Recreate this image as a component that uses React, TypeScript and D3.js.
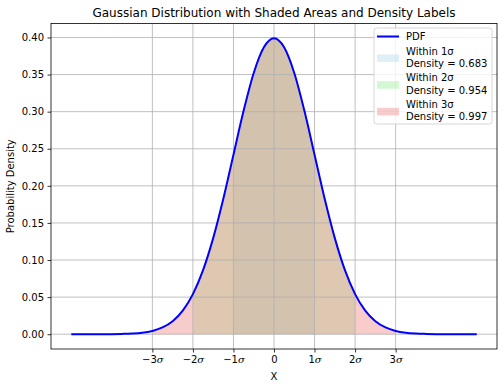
import { useEffect, useRef } from 'react'
import * as d3 from 'd3'

const xs = [
  -5, -4.75, -4.5, -4.25, -4, -3.75, -3.5, -3.25, -3, -2.75, -2.5, -2.25, -2, -1.75, -1.5, -1.25, -1, -0.75, -0.5, -0.25,
  0, 0.25, 0.5, 0.75, 1, 1.25, 1.5, 1.75, 2, 2.25, 2.5, 2.75, 3, 3.25, 3.5, 3.75, 4, 4.25, 4.5, 4.75, 5,
]
const pdf = [
  0.0, 0.0, 0.0, 0.0, 0.0001, 0.0004, 0.0009, 0.002, 0.0044, 0.0091, 0.0175, 0.0317, 0.054, 0.0863, 0.1295, 0.1826, 0.242, 0.3011, 0.3521, 0.3867,
  0.3989, 0.3867, 0.3521, 0.3011, 0.242, 0.1826, 0.1295, 0.0863, 0.054, 0.0317, 0.0175, 0.0091, 0.0044, 0.002, 0.0009, 0.0004, 0.0001, 0.0, 0.0, 0.0, 0.0,
]
const bands = [1, 2, 3]
const bandColors = ['lightblue', 'lightgreen', 'lightcoral']
const densities = ['0.683', '0.954', '0.997']
const xTicks = [-3, -2, -1, 0, 1, 2, 3]
const yTicks = [0, 0.05, 0.1, 0.15, 0.2, 0.25, 0.3, 0.35, 0.4]

const W = 504
const H = 389
const FONT = 'DejaVu Sans, sans-serif'

export default function App() {
  const ref = useRef<SVGSVGElement>(null)

  useEffect(() => {
    if (!ref.current) return
    const margin = { top: 23.5, right: 7, bottom: 40, left: 51 }
    const w = W - margin.left - margin.right
    const h = H - margin.top - margin.bottom

    const svg = d3.select(ref.current)
    svg.selectAll('*').remove()
    svg.append('rect').attr('width', W).attr('height', H).attr('fill', 'white')

    const data = xs.map((x, i) => ({ x, y: pdf[i] }))
    const ymax = d3.max(pdf) || 0.4
    const x = d3.scaleLinear().domain([-5.5, 5.5]).range([0, w])
    const y = d3.scaleLinear().domain([-ymax * 0.05, ymax * 1.05]).range([h, 0])

    svg.append('defs').append('clipPath').attr('id', 'plot')
      .append('rect').attr('width', w).attr('height', h)

    const g = svg.append('g').attr('transform', `translate(${margin.left},${margin.top})`)
    const plot = g.append('g').attr('clip-path', 'url(#plot)')

    // shaded areas
    const area = d3.area<{ x: number; y: number }>()
      .x(d => x(d.x)).y0(y(0)).y1(d => y(d.y))
      .curve(d3.curveMonotoneX)
    bands.forEach((k, i) => {
      plot.append('path')
        .datum(data.filter(d => d.x >= -k && d.x <= k))
        .attr('d', area)
        .attr('fill', bandColors[i])
        .attr('fill-opacity', 0.4)
    })

    // grid
    plot.selectAll('.vgrid').data(xTicks).join('line')
      .attr('x1', d => x(d)).attr('x2', d => x(d)).attr('y1', 0).attr('y2', h)
      .attr('stroke', '#b0b0b0').attr('stroke-width', 0.8)
    plot.selectAll('.hgrid').data(yTicks).join('line')
      .attr('y1', d => y(d)).attr('y2', d => y(d)).attr('x1', 0).attr('x2', w)
      .attr('stroke', '#b0b0b0').attr('stroke-width', 0.8)

    // pdf line
    const line = d3.line<{ x: number; y: number }>()
      .x(d => x(d.x)).y(d => y(d.y)).curve(d3.curveMonotoneX)
    plot.append('path').datum(data).attr('d', line)
      .attr('fill', 'none').attr('stroke', 'blue').attr('stroke-width', 2)

    // axes
    const xAxis = g.append('g').attr('transform', `translate(0,${h})`)
      .call(d3.axisBottom(x).tickValues(xTicks).tickSize(3.5).tickPadding(3.5).tickFormat(() => ''))
    xAxis.select('.domain').remove()
    xAxis.selectAll('.tick line').attr('stroke', '#000').attr('stroke-width', 0.8)
    xAxis.selectAll<SVGTextElement, number>('.tick text').each(function (d) {
      const t = d3.select(this).attr('font-family', FONT).attr('font-size', 10).attr('fill', '#000').attr('dy', '0.71em')
      if (d === 0) {
        t.text('0')
      } else {
        t.append('tspan').text(`${d < 0 ? '\u2212' : ''}${Math.abs(d)}`)
        t.append('tspan').attr('font-style', 'italic').attr('font-family', 'DejaVu Serif, serif').text('\u03c3')
      }
    })
    xAxis.append('text').attr('x', w / 2).attr('y', 31).attr('fill', '#000')
      .attr('text-anchor', 'middle').attr('font-family', FONT).attr('font-size', 10).text('X')

    const yAxis = g.append('g')
      .call(d3.axisLeft(y).tickValues(yTicks).tickSize(3.5).tickPadding(3.5).tickFormat(d3.format('.2f')))
    yAxis.select('.domain').remove()
    yAxis.selectAll('.tick line').attr('stroke', '#000').attr('stroke-width', 0.8)
    yAxis.selectAll('.tick text').attr('font-family', FONT).attr('font-size', 10).attr('fill', '#000')
    g.append('text').attr('transform', `translate(${-37},${h / 2}) rotate(-90)`)
      .attr('text-anchor', 'middle').attr('font-family', FONT).attr('font-size', 10).attr('fill', '#000')
      .text('Probability Density')

    // frame
    g.append('rect').attr('width', w).attr('height', h)
      .attr('fill', 'none').attr('stroke', '#000').attr('stroke-width', 0.8)

    // title
    svg.append('text').attr('x', margin.left + w / 2).attr('y', 17)
      .attr('text-anchor', 'middle').attr('font-family', FONT).attr('font-size', 12).attr('fill', '#000')
      .text('Gaussian Distribution with Shaded Areas and Density Labels')

    // legend
    const lg = g.append('g').attr('transform', `translate(${w - 123},${4.5})`)
    lg.append('rect').attr('width', 118).attr('height', 96).attr('rx', 2.5)
      .attr('fill', 'white').attr('fill-opacity', 0.8).attr('stroke', '#cccccc').attr('stroke-width', 0.8)
    lg.append('line').attr('x1', 3).attr('x2', 25).attr('y1', 8.5).attr('y2', 8.5)
      .attr('stroke', 'blue').attr('stroke-width', 2)
    const txt = (yy: number, s: string) => lg.append('text').attr('x', 32).attr('y', yy).attr('dy', '0.35em')
      .attr('font-family', FONT).attr('font-size', 10).attr('fill', '#000').text(s)
    txt(8.5, 'PDF')
    bands.forEach((k, i) => {
      const cy = 30 + i * 26.7
      lg.append('rect').attr('x', 3).attr('y', cy - 3.5).attr('width', 22).attr('height', 7.5)
        .attr('fill', bandColors[i]).attr('fill-opacity', 0.4)
      txt(cy - 7, `Within ${k}\u03c3`)
      txt(cy + 5.5, `Density = ${densities[i]}`)
    })
  }, [])

  return (
    <div style={{ position: 'absolute', left: 0, top: 0 }}>
      <svg ref={ref} width={W} height={H}></svg>
    </div>
  )
}
